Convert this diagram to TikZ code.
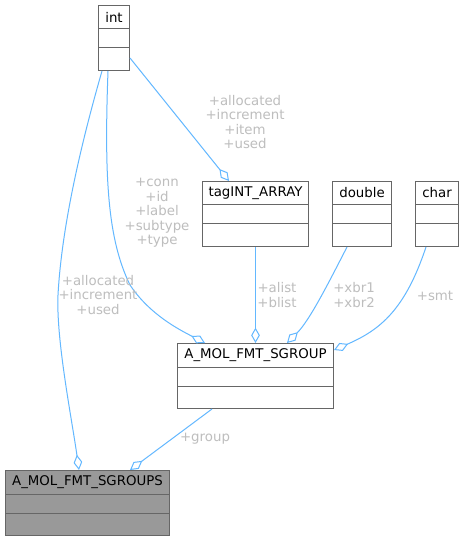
\documentclass[tikz,border=0pt]{standalone}
\usepackage{fontspec}
\setmainfont{DejaVu Sans}
\usetikzlibrary{arrows.meta,calc}
\definecolor{EdgeBlue}{HTML}{63B8FF}
\definecolor{BoxGray}{HTML}{666666}
\definecolor{LabelGray}{HTML}{BEBEBE}
\definecolor{MainFill}{HTML}{999999}
\tikzset{
    boxline/.style={draw=BoxGray, line width=0.75pt},
    classbox/.style={boxline, inner sep=0pt, minimum height={65*0.75pt}},
    classtitle/.style={font=\fontsize{10}{12}\selectfont, text=black, inner sep=0pt},
    member/.style={font=\fontsize{10}{10.9}\selectfont, text=LabelGray, align=center, inner sep=0pt},
    aggr/.style={draw=EdgeBlue, line width=0.75pt, -{Diamond[open, length=11.5pt, width=6.5pt]}},
}
\newcommand\ClassBox[6][white]{%
    \node[classbox, fill=#1, minimum width={(#5-#3)*0.75pt}, anchor=north west] (#2) at (#3,#4) {};
    \draw[boxline] ($(#2.north west)+(0,24)$) -- ($(#2.north east)+(0,24)$);
    \draw[boxline] ($(#2.north west)+(0,43)$) -- ($(#2.north east)+(0,43)$);
    \node[classtitle] (#2Title) at ($(#2.north)+(0,12)$) {#6};
}

\begin{document}
\begin{tikzpicture}[x=0.75pt, y=-0.75pt]
    \useasboundingbox[fill=white] (0,0) rectangle (463,541);
    \ClassBox{IntBox}{98}{5}{129}{int}
    \ClassBox{TagArray}{202}{181}{308}{tagINT\_ARRAY}
    \ClassBox{DoubleBox}{332}{181}{391}{double}
    \ClassBox{CharBox}{415}{181}{458}{char}
    \ClassBox{Sgroup}{177}{343}{333}{A\_MOL\_FMT\_SGROUP}
    \ClassBox[MainFill]{Sgroups}{5}{470}{169}{A\_MOL\_FMT\_SGROUPS}

    \draw[aggr] ($(IntBox.south west)+(4,0)$) .. controls (85,130) and (62,220) .. (58,295)
        .. controls (56,340) and (72,420) .. ($(Sgroups.north west)+(74,0)$);
    \draw[aggr] ($(IntBox.south west)+(10,0)$) .. controls (104,180) and (108,240) .. (130,285)
        .. controls (150,315) and (180,330) .. ($(Sgroup.north west)+(28,0)$);
    \draw[aggr] ($(IntBox.north east)+(0,53)$) -- ($(TagArray.north west)+(27,0)$);
    \draw[aggr] (TagArray.south) -- (Sgroup.north);
    \draw[aggr] ($(DoubleBox.south west)+(15,0)$) .. controls (330,280) and (310,320) .. ($(Sgroup.north west)+(110,0)$);
    \draw[aggr] ($(CharBox.south west)+(11,0)$) .. controls (405,310) and (380,330) .. ($(Sgroup.north east)+(0,7)$);
    \draw[aggr] ($(Sgroup.south west)+(35,0)$) -- ($(Sgroups.north west)+(125,0)$);

    \node[member] (LblIntSgroups) at (98,295) {+allocated\\+increment\\+used};
    \node[member] (LblIntSgroup) at (157,213) {+conn\\+id\\+label\\+subtype\\+type};
    \node[member] (LblIntTag) at (245,122) {+allocated\\+increment\\+item\\+used};
    \node[member] (LblTag) at (277,295) {+alist\\+blist};
    \node[member] (LblDouble) at (354,295) {+xbr1\\+xbr2};
    \node[member] (LblChar) at (435,296) {+smt};
    \node[member] (LblGroup) at (205,439) {+group};
\end{tikzpicture}
\end{document}
